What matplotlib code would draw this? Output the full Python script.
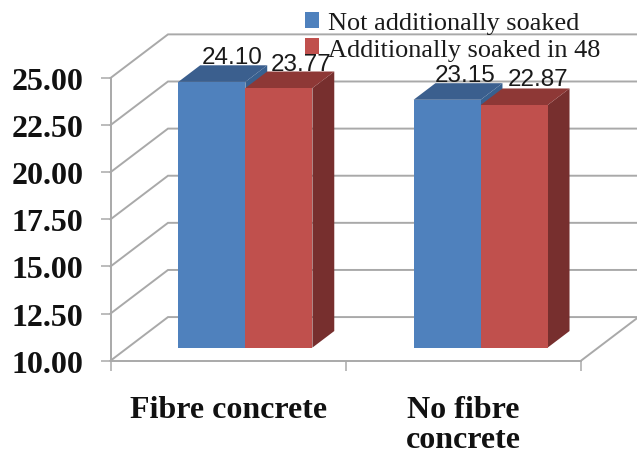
import matplotlib
matplotlib.use("Agg")
import matplotlib.pyplot as plt
from matplotlib.patches import Polygon, Patch

categories = ["Fibre concrete", "No fibre\nconcrete"]
series_names = ["Not additionally soaked", "Additionally soaked in 48"]
not_soaked = [24.10, 23.15]
soaked = [23.77, 22.87]
y_ticks = [10, 12.5, 15, 17.5, 20, 22.5, 25]

W, H = 637, 456
fig = plt.figure(figsize=(W / 100, H / 100), dpi=100, facecolor="white")
ax = fig.add_axes([110.5 / W, (H - 361.7) / H, (581 - 110.5) / W, (361.7 - 79) / H])
ax.set_xlim(0, 2)
ax.set_ylim(10, 25)
ax.patch.set_visible(False)

GRID = "#A9A9A9"
DX, DY = 0.2444, 2.315     # full depth of the box in data units
BAR_D0, BAR_D1 = 0.30, 0.68  # bar front / back depth
BAR_W = 0.285


def proj(x, v, d=0.0):
    return (x + d * DX, v + d * DY)


# walls
for v in y_ticks:
    xs, ys = zip(proj(0, v), proj(0, v, 1), proj(2, v, 1))
    ax.plot(xs, ys, color=GRID, lw=1.4, clip_on=False, zorder=1, solid_joinstyle="miter")
xs, ys = zip(proj(2, 10), proj(2, 10, 1))
ax.plot(xs, ys, color=GRID, lw=1.4, clip_on=False, zorder=1)


def bar3d(x0, v, front, top, side, z):
    x1 = x0 + BAR_W
    base = 10
    ax.add_patch(Polygon([proj(x1, base, BAR_D0), proj(x1, base, BAR_D1),
                          proj(x1, v, BAR_D1), proj(x1, v, BAR_D0)],
                         fc=side, ec="none", clip_on=False, zorder=z))
    ax.add_patch(Polygon([proj(x0, v, BAR_D0), proj(x1, v, BAR_D0),
                          proj(x1, v, BAR_D1), proj(x0, v, BAR_D1)],
                         fc=top, ec="none", clip_on=False, zorder=z))
    ax.add_patch(Polygon([proj(x0, base, BAR_D0), proj(x1, base, BAR_D0),
                          proj(x1, v, BAR_D0), proj(x0, v, BAR_D0)],
                         fc=front, ec="none", clip_on=False, zorder=z + 0.1))


BLUE, BLUE_TOP, BLUE_SIDE = "#4F81BD", "#3B5F8E", "#38608F"
RED, RED_TOP, RED_SIDE = "#C0504D", "#8E3836", "#772F2E"
offs_blue = [(-2, 8), (-4, 8)]
offs_red = [(0, 8), (2, 9)]
for i in range(2):
    xc = i + 0.5
    bar3d(xc - BAR_W, not_soaked[i], BLUE, BLUE_TOP, BLUE_SIDE, 2)
    bar3d(xc, soaked[i], RED, RED_TOP, RED_SIDE, 3)
    ax.annotate(f"{not_soaked[i]:.2f}", proj(xc - BAR_W / 2, not_soaked[i], BAR_D1),
                xytext=offs_blue[i], textcoords="offset pixels", ha="center", va="center",
                family="Liberation Sans", fontsize=17.5, color="#1a1a1a", zorder=6,
                annotation_clip=False)
    ax.annotate(f"{soaked[i]:.2f}", proj(xc + BAR_W / 2, soaked[i], BAR_D1),
                xytext=offs_red[i], textcoords="offset pixels", ha="center", va="center",
                family="Liberation Sans", fontsize=17.5, color="#1a1a1a", zorder=6,
                annotation_clip=False)

# axes
for s in ["top", "right"]:
    ax.spines[s].set_visible(False)
for s in ["left", "bottom"]:
    ax.spines[s].set_color(GRID)
    ax.spines[s].set_linewidth(1.4)
    ax.spines[s].set_zorder(1.5)

ax.set_yticks(y_ticks, [f"{v:.2f}" for v in y_ticks],
              family="Liberation Serif", fontsize=23, fontweight="bold", color="#111111")
ax.tick_params(axis="y", length=7.2, width=1.1, color=GRID, pad=12.3)
ax.set_xticks([0, 1, 2], ["", "", ""])
ax.tick_params(axis="x", which="major", length=7.2, width=1.1, color=GRID)
ax.set_xticks([0.5, 1.5], categories, minor=True, family="Liberation Serif",
              fontsize=23, fontweight="bold", color="#111111", linespacing=1.05, va="top")
ax.tick_params(axis="x", which="minor", length=0, pad=24.5)

handles = [Patch(fc=BLUE, ec="none"), Patch(fc=RED, ec="none")]
fig.legend(handles, series_names, loc="upper left", bbox_to_anchor=(305 / W, 1 - 13 / H),
           frameon=False, prop={"family": "Liberation Serif", "size": 18.9},
           handlelength=0.55, handleheight=0.55, handletextpad=0.32, labelspacing=0.16,
           borderpad=0, borderaxespad=0, labelcolor="#1a1a1a")

fig.savefig("out.png", dpi=100, facecolor="white")
